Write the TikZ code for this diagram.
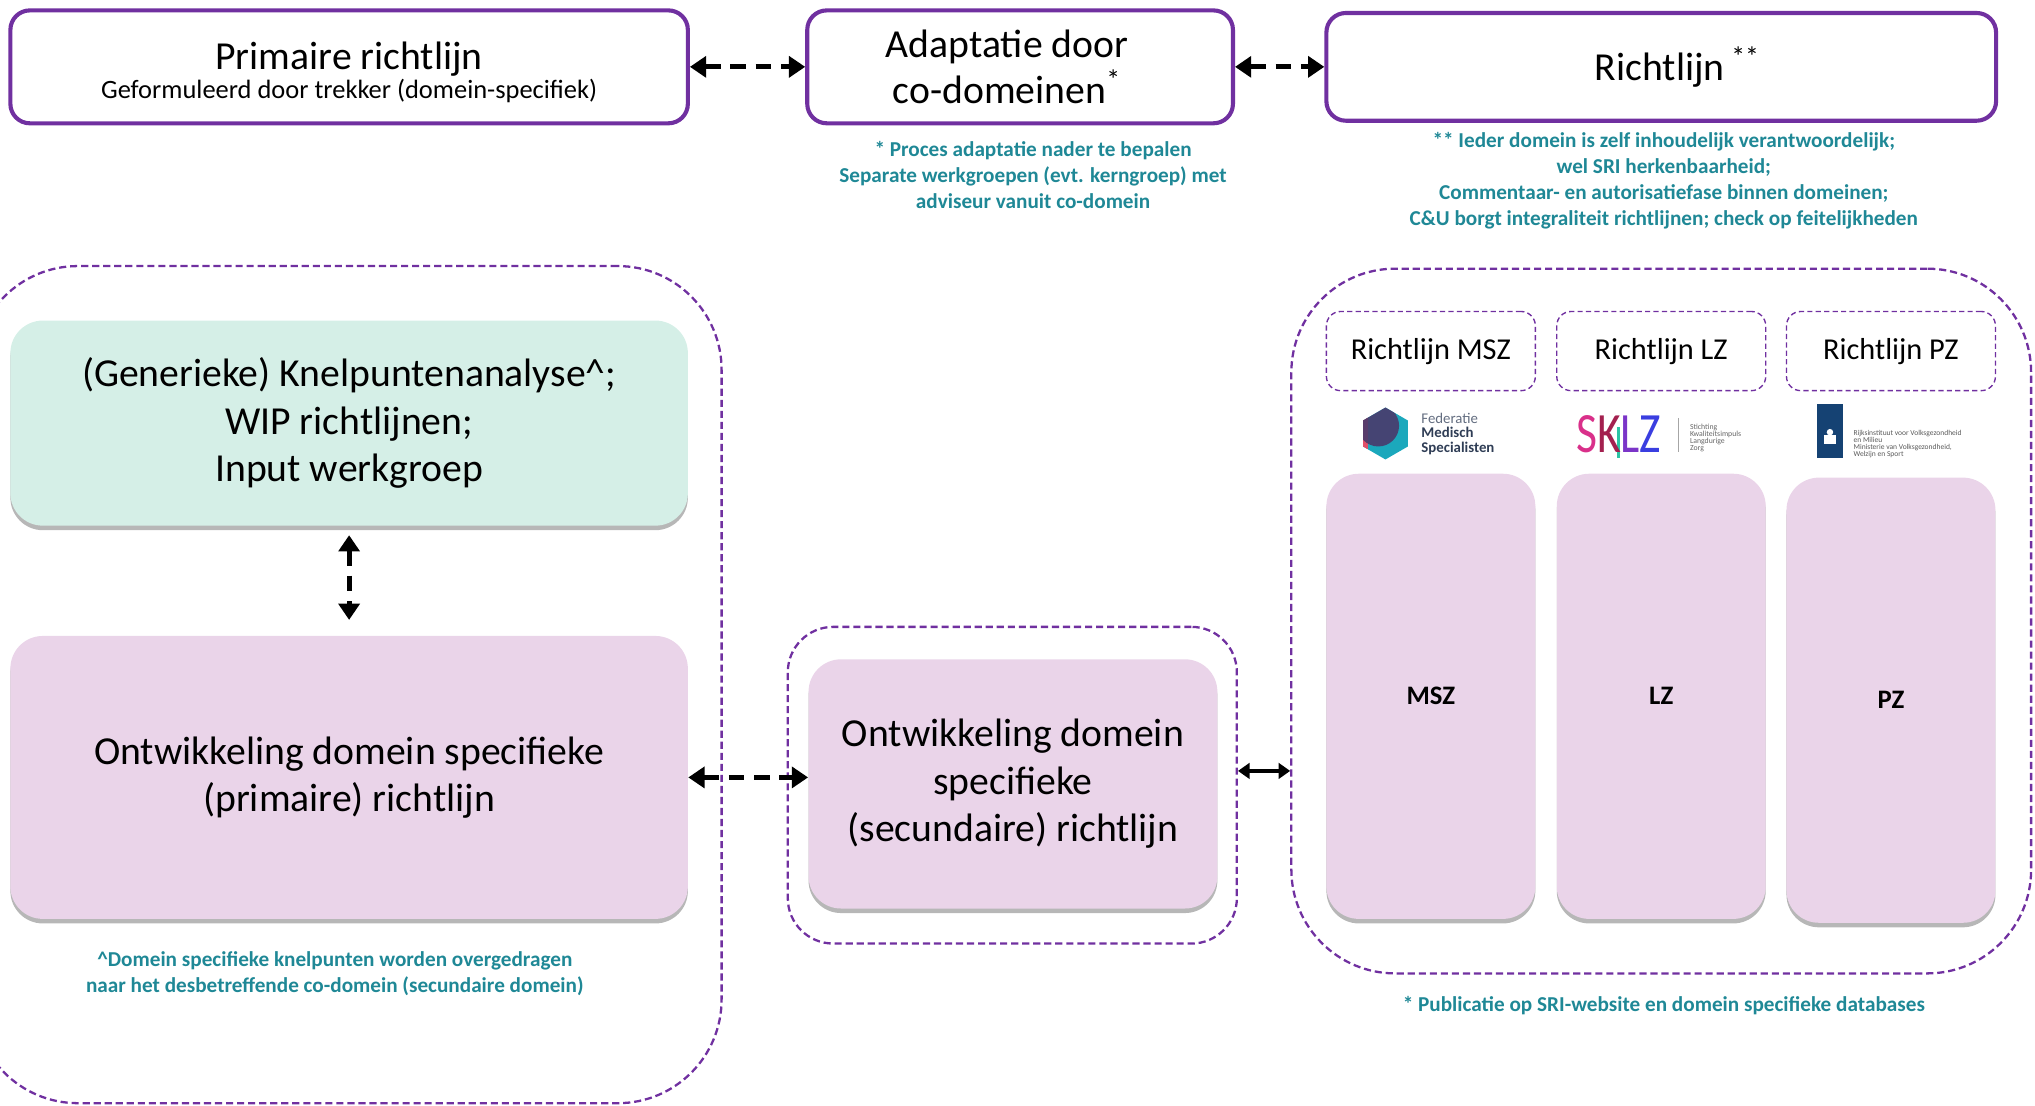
\documentclass[tikz,border=0pt]{standalone}
\usepackage{fontspec}
\setmainfont{Carlito}
\usetikzlibrary{arrows.meta,shadows,positioning}
\definecolor{paars}{HTML}{7030A0}
\definecolor{petrol}{HTML}{1F8896}
\definecolor{mint}{HTML}{D5EFE7}
\definecolor{roze}{HTML}{EAD4E9}
\definecolor{fmsblauw}{HTML}{1BA8BC}
\definecolor{fmspaars}{HTML}{4A3A6C}
\definecolor{fmsrood}{HTML}{E0506A}
\definecolor{fmstekst}{HTML}{2F3D55}
\definecolor{sklzroze}{HTML}{D9308A}
\definecolor{sklzrood}{HTML}{A3204F}
\definecolor{sklzpaars}{HTML}{7B35C8}
\definecolor{sklzblauw}{HTML}{3A3EE0}
\definecolor{sklzgroen}{HTML}{2CC4A5}
\definecolor{rijksblauw}{HTML}{154273}

\begin{document}
\begin{tikzpicture}[x=0.2mm,y=-0.2mm,
    kader/.style={draw=paars,line width=1.8pt,rounded corners=3mm,inner sep=0pt,align=center,font=\fontsize{17.4}{20.5}\selectfont},
    vak/.style={rounded corners=5mm,inner sep=0pt,align=center,font=\fontsize{17.4}{20.8}\selectfont,
        drop shadow={shadow xshift=0pt,shadow yshift=-0.7mm,opacity=.4,fill=black!70}},
    groep/.style={draw=paars,line width=1pt,dash pattern=on 1.1mm off .6mm,rounded corners=16mm,inner sep=0pt},
    kopje/.style={draw=paars,line width=.6pt,dash pattern=on .8mm off .5mm,rounded corners=2.2mm,inner sep=0pt,
        minimum width=32.2mm,minimum height=12.2mm,font=\fontsize{13.3}{15}\selectfont},
    kolom/.style={vak,fill=roze,minimum width=32.2mm,font=\fontsize{11.7}{14}\selectfont\bfseries},
    pijl/.style={line width=2.2pt,dash pattern=on 2.4mm off 1.5mm,{Triangle[length=2.5mm,width=3.2mm]}-{Triangle[length=2.5mm,width=3.2mm]}},
    noot/.style={text=petrol,align=center,font=\fontsize{9.3}{11.4}\selectfont\bfseries}]

\useasboundingbox (0,0) rectangle (1568,852);

% bovenste rij
\node[kader,minimum width=104.4mm,minimum height=17.4mm,font=\fontsize{11.6}{12.6}\selectfont] (prim) at (269,51.5)
    {\rule{0pt}{17pt}{\fontsize{17.4}{12.6}\selectfont Primaire richtlijn}\\Geformuleerd door trekker (domein-specifiek)};
\node[kader,minimum width=65.6mm,minimum height=17.4mm] (adapt) at (786,51.5)
    {Adaptatie door\hspace*{4mm}\\co-domeinen\textsuperscript{*}\hspace*{4mm}};
\node[kader,minimum width=103.2mm,minimum height=16.6mm] (richt) at (1280,51.5) {\hspace*{5mm}Richtlijn\,\textsuperscript{**}};
\draw[pijl] (prim) -- (adapt);
\draw[pijl] (adapt) -- (richt);

\node[noot] (noot1) at (796,135) {* Proces adaptatie nader te bepalen\\Separate werkgroepen (evt. kerngroep) met\\adviseur vanuit co-domein};
\node[noot] (noot2) at (1282,139.5) {** Ieder domein is zelf inhoudelijk verantwoordelijk;\\wel SRI herkenbaarheid;\\Commentaar- en autorisatiefase binnen domeinen;\\C\&U borgt integraliteit richtlijnen; check op feitelijkheden};

% groepen
\node[groep,minimum width=115.2mm,minimum height=129mm] (links) at (268,527.5) {};
\node[groep,rounded corners=7mm,minimum width=69.2mm,minimum height=48.8mm] (midden) at (780,605) {};
\node[groep,minimum width=114mm,minimum height=108.6mm] (rechts) at (1280,478.5) {};

% linker kolom
\node[vak,fill=mint,minimum width=104.4mm,minimum height=31.6mm] (kn) at (269,326)
    {(Generieke) Knelpuntenanalyse\textasciicircum;\\WIP richtlijnen;\\Input werkgroep};
\node[vak,fill=roze,minimum width=104.4mm,minimum height=43.6mm] (ontw1) at (269,599)
    {Ontwikkeling domein specifieke\\(primaire) richtlijn};
\draw[pijl,shorten <=1.4mm,shorten >=2.4mm] (kn) -- (ontw1);
\node[noot] (noot3) at (258,750) {\textasciicircum Domein specifieke knelpunten worden overgedragen\\naar het desbetreffende co-domein (secundaire domein)};

% midden
\node[vak,fill=roze,minimum width=63mm,minimum height=38.4mm] (ontw2) at (780.5,604)
    {Ontwikkeling domein\\specifieke\\(secundaire) richtlijn};
\draw[pijl] (ontw1.east) -- (ontw1.east -| ontw2.west);
\draw[line width=1.6pt,{Triangle[length=1.8mm,width=2.4mm]}-{Triangle[length=1.8mm,width=2.4mm]}]
    ([yshift=2.2mm]midden.east) -- ([yshift=2.2mm]midden.east -| rechts.west);

% rechts: domeinen
\foreach \d/\x/\y in {MSZ/1102.5/536.5,LZ/1280/536.5,PZ/1457/539.5}{
    \node[kopje] (kop\d) at (\x,270.5) {Richtlijn \d};
    \node[kolom,minimum height=68.6mm] (kol\d) at (\x,\y) {\d};
}
\node[noot] (noot4) at (1282,775) {* Publicatie op SRI-website en domein specifieke databases};

% logo FMS
\begin{scope}
    \clip (1067.5,314) -- (1084.8,324) -- (1084.8,344) -- (1067.5,354) -- (1050.2,344) -- (1050.2,324) -- cycle;
    \fill[fmsblauw] (1045,310) rectangle (1090,358);
    \fill[fmsrood] (1048,320) rectangle (1054,346);
    \fill[fmspaars,opacity=.9] (1062,328) circle (3.2mm);
\end{scope}
\node[anchor=west,align=left,text=fmstekst,font=\fontsize{6.5}{6.2}\selectfont\bfseries] (fms) at (1089,334.4)
    {{\mdseries\color{fmstekst!75}Federatie}\\Medisch\\Specialisten};

% logo SKLZ
\draw[sklzgroen,line width=1.2pt] (1247,329) -- (1247,353);
\node[anchor=west,inner sep=0pt,font=\fontsize{25}{25}\selectfont] (sklz) at (1214,334.5)
    {\scalebox{0.8}[1]{\textcolor{sklzroze}{S}\textcolor{sklzrood}{K}\textcolor{sklzpaars}{L}\textcolor{sklzblauw}{Z}}};
\draw[black!35,line width=.3pt] (1293,322) -- (1293,348);
\node[anchor=west,align=left,text=black!60,font=\fontsize{3.4}{3.1}\selectfont] (sklztekst) at (1296,337.5)
    {Stichting\\Kwaliteitsimpuls\\Langdurige\\Zorg};

% logo RIVM
\fill[rijksblauw] (1400,311) rectangle (1420,353);
\fill[white] (1410,333) circle (0.5mm);
\fill[white] (1405.5,335) rectangle (1414.5,342);
\node[anchor=west,align=left,text=black!65,font=\fontsize{3.3}{3.1}\selectfont] (rivm) at (1422,342)
    {Rijksinstituut voor Volksgezondheid\\en Milieu\\Ministerie van Volksgezondheid,\\Welzijn en Sport};

\end{tikzpicture}
\end{document}
